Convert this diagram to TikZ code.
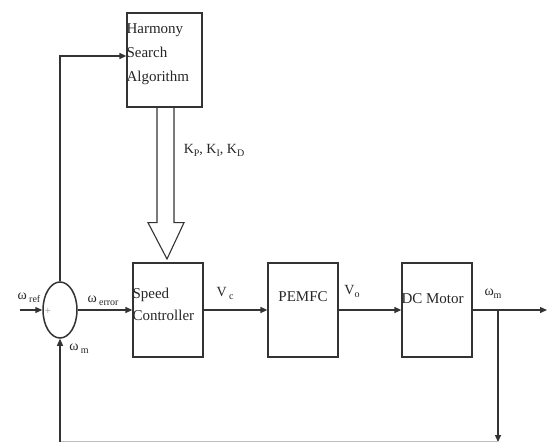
\documentclass[tikz,border=0pt]{standalone}
\usepackage{fontspec}
\setmainfont{Liberation Serif}
\usetikzlibrary{shapes.geometric,arrows.meta,calc}
\newcommand{\lowsub}[1]{\raisebox{-3pt}{\fontsize{10}{10}\selectfont #1}}
\tikzset{
  line/.style={draw=black!80, line width=1.3pt},
  arr/.style={line, -{Triangle[length=7pt,width=6pt]}},
  blk/.style={line, rectangle, minimum width=70pt, minimum height=94pt, inner sep=0pt},
  txt/.style={font=\fontsize{15}{24}\selectfont, inner sep=0pt, align=left, text=black!85}
}
\begin{document}
\begin{tikzpicture}[x=1pt, y=-1pt]
  \useasboundingbox (0,0) rectangle (548,444);
  % blocks
  \node[line, ellipse, line width=1.5pt, minimum width=34pt, minimum height=56pt, inner sep=0pt] (sum) at (60,310) {};
  \node[blk, minimum width=75pt] (hsa) at (164.5,60) {};
  \node[blk] (spd) at (168,310) {};
  \node[blk] (pem) at (303,310) {};
  \node[blk] (dcm) at (437,310) {};
  \node[txt, anchor=west] at ([yshift=6pt]hsa.west) {Harmony\\Search\\Algorithm};
  \node[txt, anchor=west] at ([yshift=6pt]spd.west) {Speed\\[-2pt]Controller};
  \node[txt] at ([yshift=13pt]pem.center) {PEMFC};
  \node[txt, anchor=west] at ([yshift=11pt]dcm.west) {DC Motor};
  % free ends
  \coordinate (in) at (20,310);
  \coordinate (out) at (547,310);
  \coordinate (br) at (498,310);
  \coordinate (bot) at (498,442);
  \coordinate (botl) at (60,441.5);
  % connectors
  \draw[arr] (in) -- (sum.west);
  \draw[arr] (sum.east) -- (spd.west);
  \draw[arr] (spd.east) -- (pem.west);
  \draw[arr] (pem.east) -- (dcm.west);
  \draw[arr] (dcm.east) -- (out);
  \draw[arr] (br) -- (bot);
  \draw[line, draw=black!25] (bot |- botl) -- (botl);
  \draw[arr] (botl) -- (sum.south);
  \draw[arr] (sum.north) |- ([yshift=4pt]hsa.west);
  % gains arrow
  \draw[line, line width=1.1pt] ($(hsa.south)+(-7.5,0)$) -- ++(0,115) -- ++(-9,0)
    -- (167,259) -- ($(hsa.south)+(19.5,222-107)$) -- ++(-10,0) -- ($(hsa.south)+(9.5,0)$);
  % labels
  \node[txt, font=\fontsize{14}{14}\selectfont] (lref) at (29,298) {ω\,\lowsub{ref}};
  \node[txt, font=\fontsize{11}{11}\selectfont, text=black!45] (lplus) at (48,311) {+};
  \node[txt, font=\fontsize{14}{14}\selectfont] (lerr) at (103,301) {ω\,\lowsub{error}};
  \node[txt, font=\fontsize{14}{14}\selectfont] (lm) at (79,349) {ω\,\lowsub{m}};
  \node[txt, font=\fontsize{14}{14}\selectfont] (lk) at (214,150) {K\lowsub{P}, K\lowsub{I}, K\lowsub{D}};
  \node[txt, font=\fontsize{14}{14}\selectfont] (lvc) at (225,293) {V\,\lowsub{c}};
  \node[txt, font=\fontsize{14}{14}\selectfont] (lvo) at (352,291) {V\lowsub{o}};
  \node[txt, font=\fontsize{14}{14}\selectfont] (lwm) at (493,294) {ω\lowsub{m}};
\end{tikzpicture}
\end{document}
